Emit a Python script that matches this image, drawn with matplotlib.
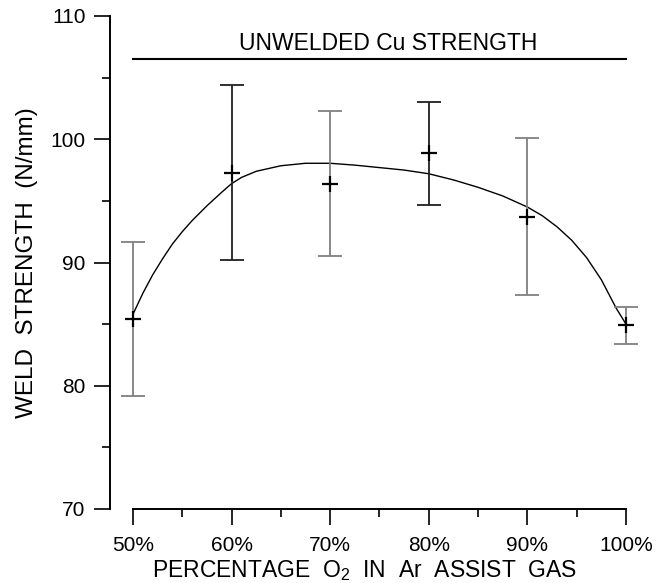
import matplotlib
matplotlib.use("Agg")
import matplotlib.pyplot as plt
from matplotlib.ticker import MultipleLocator, FuncFormatter

plt.rcParams['font.family'] = ['Liberation Sans', 'DejaVu Sans']
plt.rcParams['mathtext.fontset'] = 'custom'
plt.rcParams['mathtext.rm'] = 'Liberation Sans'
plt.rcParams['mathtext.it'] = 'Liberation Sans'

# data
o2_pct = [50, 60, 70, 80, 90, 100]
strength = [85.4, 97.3, 96.4, 98.9, 93.7, 84.9]
err_low = [79.2, 90.2, 90.5, 94.7, 87.4, 83.4]
err_high = [91.7, 104.4, 102.3, 103.0, 100.1, 86.4]
err_colors = ['#808080', '#202020', '#808080', '#202020', '#808080', '#808080']

fit_x = [50, 51, 52, 53, 54, 55, 56, 57.5, 59, 60, 61, 62.5, 65, 67.5, 70, 72.5, 75, 77.5,
         80, 82.5, 85, 87.5, 90, 91.5, 93, 94.5, 96, 97.5, 99, 100]
fit_y = [85.8, 87.5, 89.0, 90.3, 91.5, 92.5, 93.4, 94.6, 95.7, 96.4, 96.9, 97.4, 97.85, 98.05, 98.05,
         97.9, 97.7, 97.5, 97.2, 96.7, 96.1, 95.4, 94.5, 93.8, 92.9, 91.8, 90.4, 88.6, 86.3, 85.0]

unwelded_value = 106.5
unwelded_label = "UNWELDED Cu STRENGTH"

fig = plt.figure(figsize=(6.61, 5.83), dpi=100)
ax = fig.add_axes([110/661, (583-509)/583, (640-110)/661, (509-16)/583])

ax.set_xlim(47.67, 101.42)
ax.set_ylim(70, 110)

# unwelded line and label
ax.plot([o2_pct[0], o2_pct[-1]], [unwelded_value, unwelded_value], color='black', lw=1.5)
ax.text(75.9, unwelded_value + 0.3, unwelded_label, ha='center', va='bottom', fontsize=16.5)

# fit curve
ax.plot(fit_x, fit_y, color='black', lw=1.0)

# error bars
for x, y, lo, hi, c in zip(o2_pct, strength, err_low, err_high, err_colors):
    ax.errorbar([x], [y], yerr=[[y - lo], [hi - y]], fmt='none', ecolor=c,
                elinewidth=1.3, capsize=8.5, capthick=1.3)
ax.plot(o2_pct, strength, linestyle='none', marker='+', markersize=12,
        markeredgewidth=1.6, color='black', zorder=5)

for s in ['top', 'right']:
    ax.spines[s].set_visible(False)
ax.spines['left'].set_bounds(70, 110)
ax.spines['bottom'].set_bounds(50, 100)
for s in ['left', 'bottom']:
    ax.spines[s].set_linewidth(1.4)

ax.xaxis.set_major_locator(MultipleLocator(10))
ax.xaxis.set_minor_locator(MultipleLocator(5))
ax.yaxis.set_major_locator(MultipleLocator(10))
ax.yaxis.set_minor_locator(MultipleLocator(5))
ax.xaxis.set_major_formatter(FuncFormatter(lambda v, p: f"{int(round(v))}%"))
ax.tick_params(which='major', direction='out', length=11.5, width=1.2, labelsize=15)
ax.tick_params(which='minor', direction='out', length=5.8, width=1.2)
ax.tick_params(axis='x', which='major', pad=8)
ax.tick_params(axis='y', which='major', pad=6)

ax.set_xlabel("PERCENTAGE  O$_2$  IN  Ar  ASSIST  GAS", fontsize=16.5, labelpad=2)
ax.xaxis.label.set_x((365 - 110) / 530)
ax.set_ylabel("WELD  STRENGTH  (N/mm)", fontsize=17.5, labelpad=9)

fig.savefig("out.png", dpi=100)
